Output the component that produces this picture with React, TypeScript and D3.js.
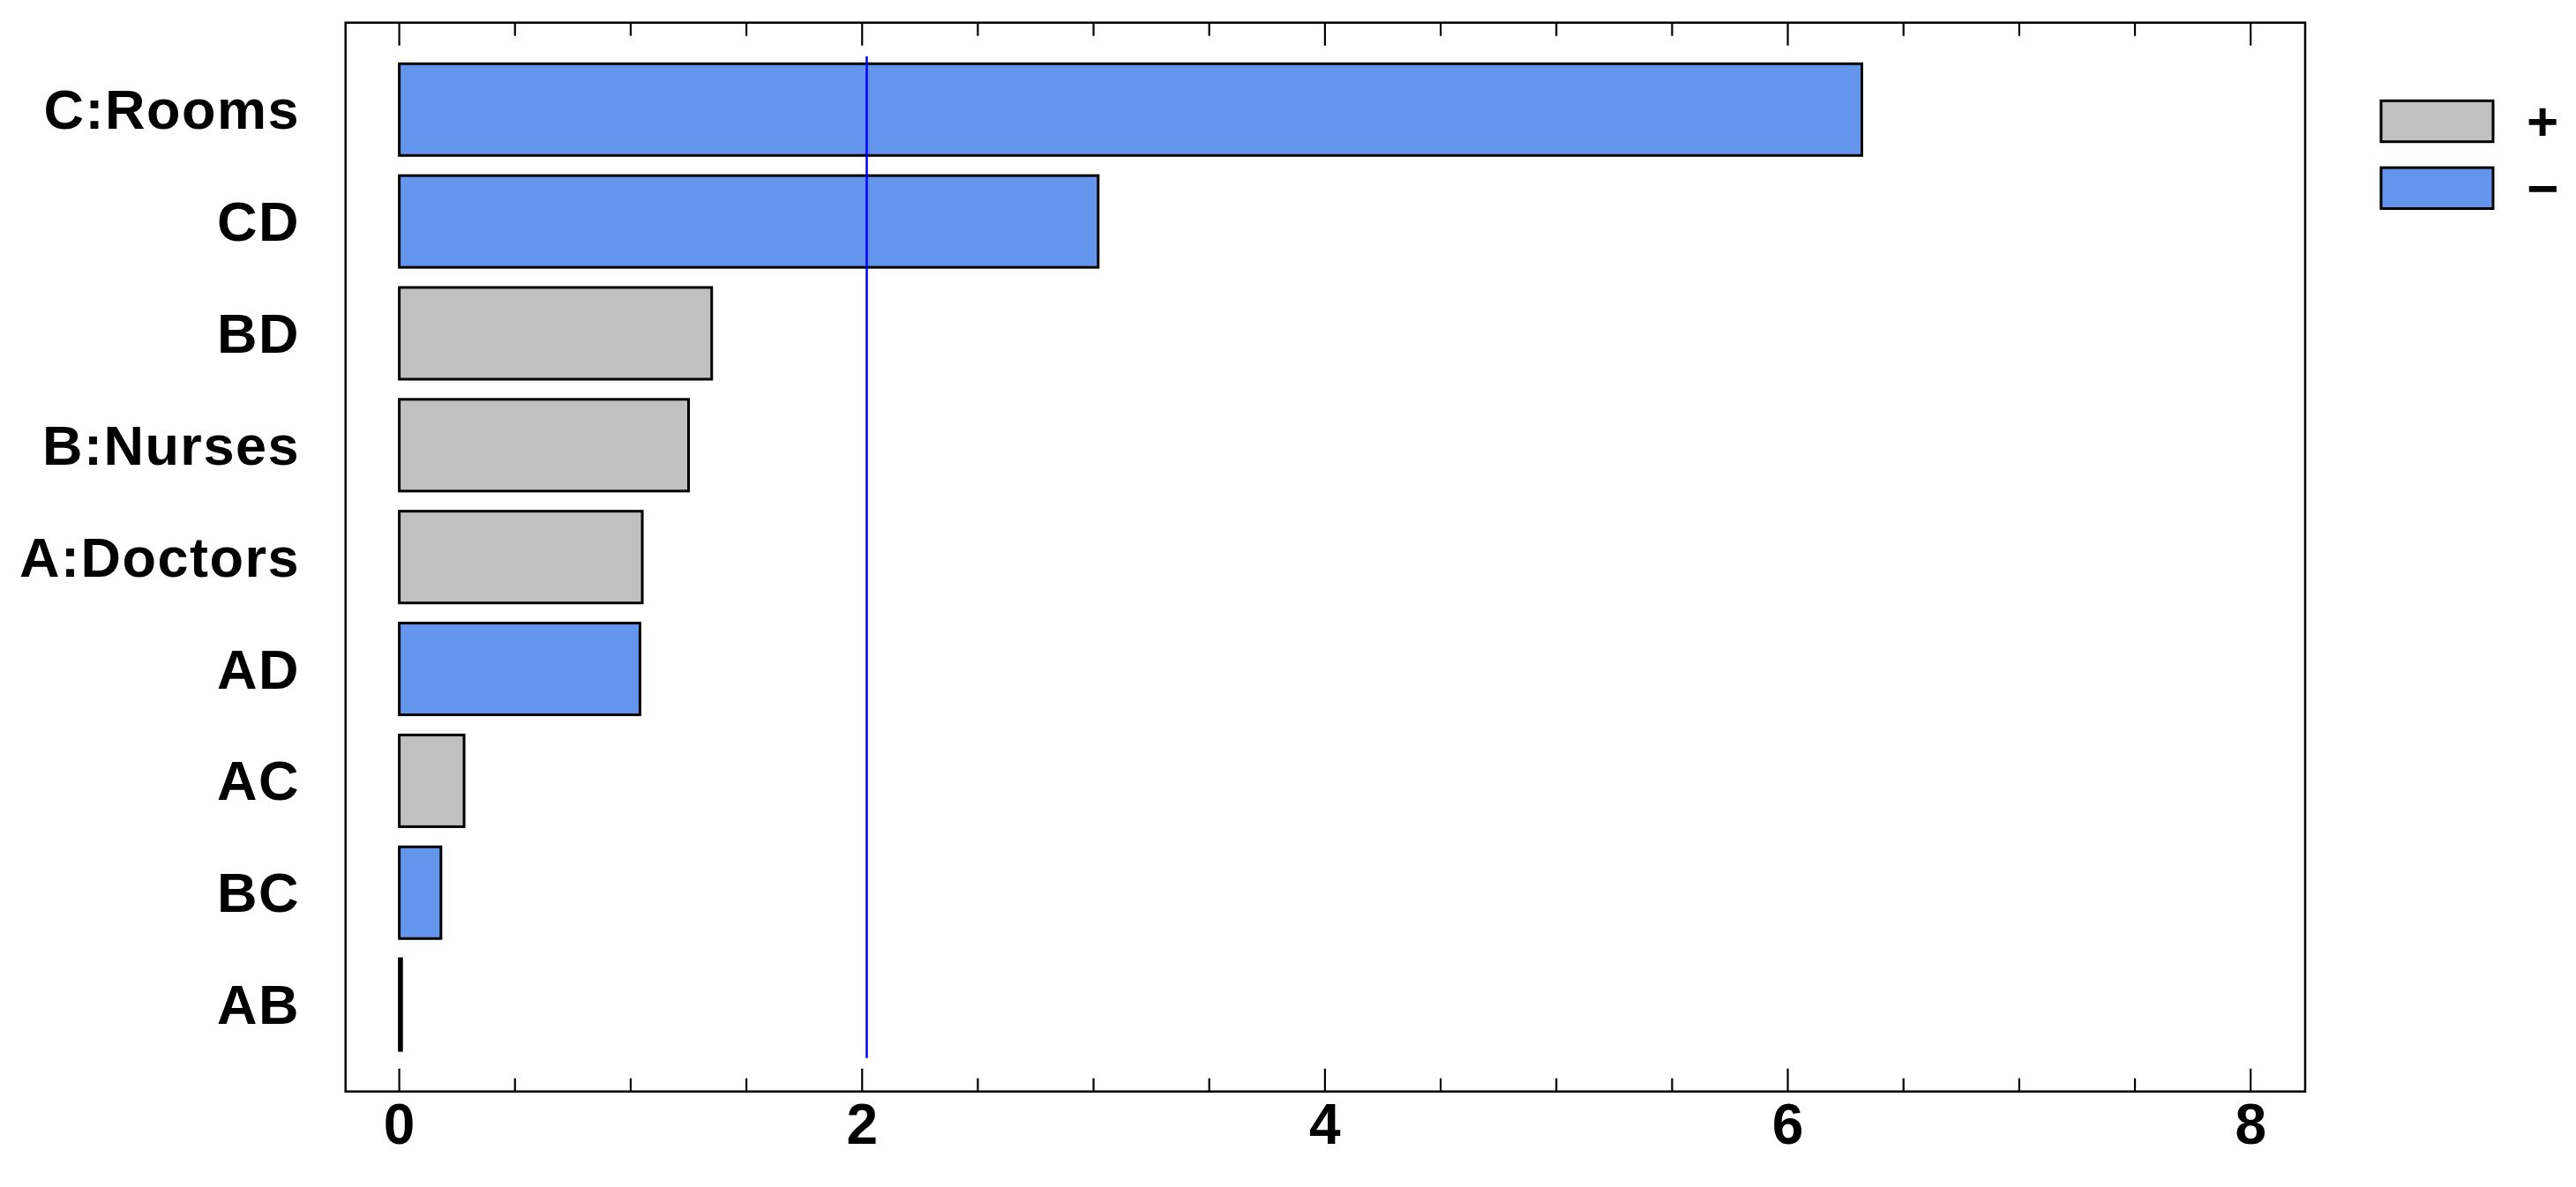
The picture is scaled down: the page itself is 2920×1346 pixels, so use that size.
import React from "react";
import * as d3 from "d3";

const categories = ["C:Rooms", "CD", "BD", "B:Nurses", "A:Doctors", "AD", "AC", "BC", "AB"];
const effects = [6.32, 3.02, 1.35, 1.25, 1.05, 1.04, 0.28, 0.18, 0.01];
const signs = ["-", "-", "+", "+", "+", "-", "+", "-", "+"];
const xTicks = [0, 2, 4, 6, 8];
const minorTicks = d3.range(0, 8.01, 0.5);
const criticalValue = 2.02;
const legendItems = [
  { sign: "+", label: "+" },
  { sign: "-", label: "\u2212" },
];

const W = 2920;
const H = 1346;
const frame = { left: 391.7, right: 2613, top: 25.7, bottom: 1237.7 };
const GRAY = "#c0c0c0";
const BLUE = "#6495ed";
const FONT = "'Liberation Sans', Arial, sans-serif";

export default function App() {
  const x = d3.scaleLinear().domain([0, 8]).range([452.6, 2551.2]);
  const y = d3
    .scaleBand<string>()
    .domain(categories)
    .range([frame.top, frame.bottom])
    .paddingInner(0.18)
    .paddingOuter(0.367);
  const color = (s: string) => (s === "+" ? GRAY : BLUE);
  const lineTop = frame.top + 38;
  const lineBottom = frame.bottom - 38;

  return (
    <svg
      width={W}
      height={H}
      style={{ position: "absolute", left: 0, top: 0, background: "#fff" }}
      fontFamily={FONT}
    >
      {/* bars */}
      {categories.map((c, i) => (
        <rect
          key={c}
          x={x(0)}
          y={y(c)!}
          width={Math.max(x(effects[i]) - x(0), 1)}
          height={y.bandwidth()}
          fill={color(signs[i])}
          stroke="#000"
          strokeWidth={3}
        />
      ))}
      {/* critical line */}
      <line
        x1={x(criticalValue)}
        x2={x(criticalValue)}
        y1={lineTop}
        y2={lineBottom}
        stroke="#0000ff"
        strokeWidth={2.5}
      />
      {/* frame */}
      <rect
        x={frame.left}
        y={frame.top}
        width={frame.right - frame.left}
        height={frame.bottom - frame.top}
        fill="none"
        stroke="#000"
        strokeWidth={2.5}
      />
      {/* ticks top and bottom */}
      {minorTicks.map((t) => {
        const major = Math.abs(t - Math.round(t / 2) * 2) < 1e-6;
        const len = major ? 26 : 15;
        return (
          <g key={t}>
            <line x1={x(t)} x2={x(t)} y1={frame.top} y2={frame.top + len} stroke="#000" strokeWidth={2.2} />
            <line x1={x(t)} x2={x(t)} y1={frame.bottom} y2={frame.bottom - len} stroke="#000" strokeWidth={2.2} />
          </g>
        );
      })}
      {/* x tick labels */}
      {xTicks.map((t) => (
        <text
          key={t}
          x={x(t)}
          y={1275}
          textAnchor="middle"
          dominantBaseline="central"
          fontSize={64}
          fontWeight="bold"
        >
          {t}
        </text>
      ))}
      {/* category labels */}
      {categories.map((c) => (
        <text
          key={c}
          x={340}
          y={y(c)! + y.bandwidth() / 2}
          textAnchor="end"
          dominantBaseline="central"
          fontSize={63}
          fontWeight="bold"
          letterSpacing={1.5}
        >
          {c}
        </text>
      ))}
      {/* legend */}
      {legendItems.map((d, i) => {
        const top = 114.3 + i * 75.8;
        return (
          <g key={d.sign}>
            <rect
              x={2699}
              y={top}
              width={127}
              height={46.4}
              fill={color(d.sign)}
              stroke="#000"
              strokeWidth={3}
            />
            <text
              x={2882}
              y={top + 23.2}
              textAnchor="middle"
              dominantBaseline="central"
              fontSize={62}
              fontWeight="bold"
            >
              {d.label}
            </text>
          </g>
        );
      })}
    </svg>
  );
}
